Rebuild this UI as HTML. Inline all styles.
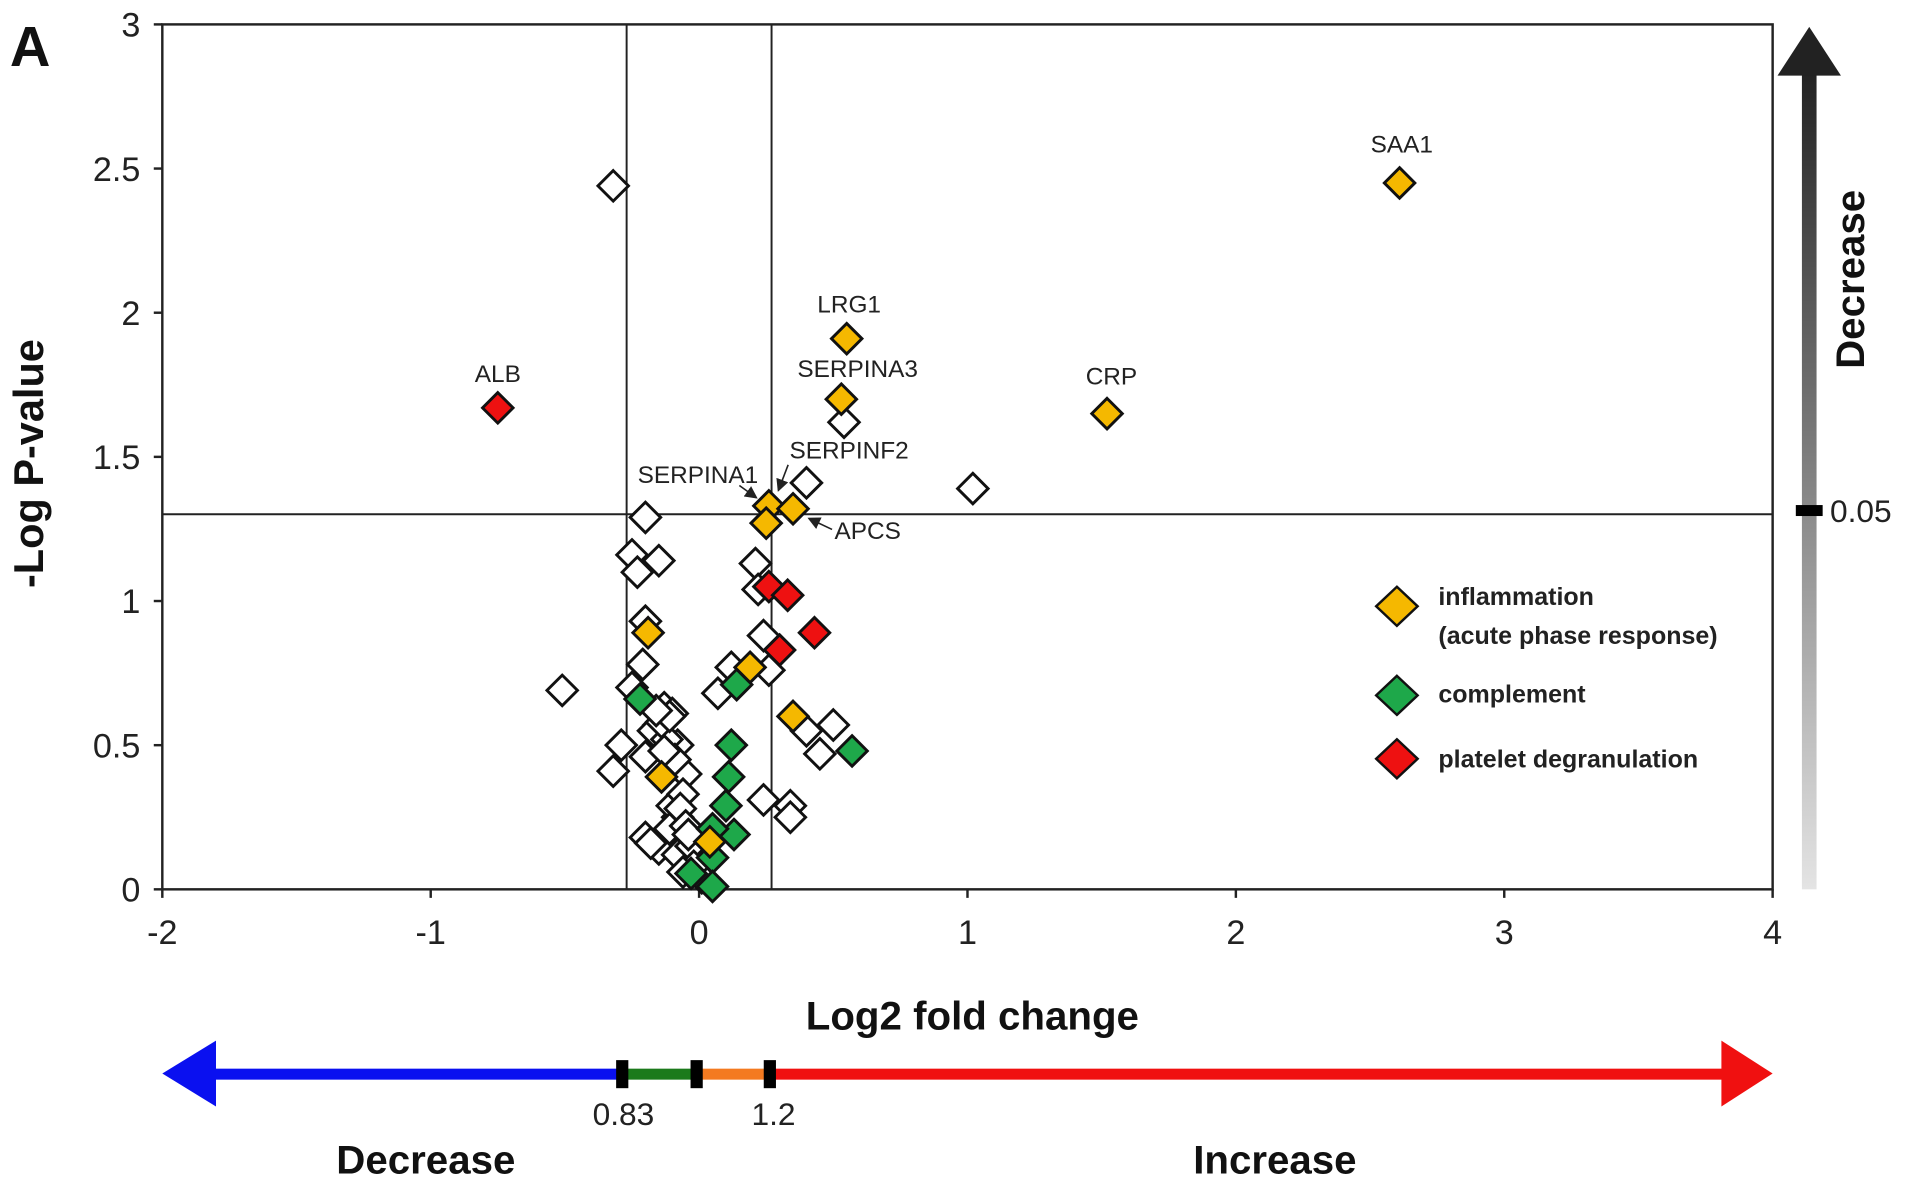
<!DOCTYPE html>
<html><head><meta charset="utf-8"><style>
html,body{margin:0;padding:0;background:#fff}
svg{display:block;font-family:"Liberation Sans",Arial,sans-serif}
</style></head><body>
<svg id="chart" width="1913" height="1187" viewBox="0 0 1568 973" xmlns="http://www.w3.org/2000/svg">
<defs>
<linearGradient id="gr" x1="0" y1="1" x2="0" y2="0">
<stop offset="0" stop-color="#e4e4e4"/><stop offset="1" stop-color="#222"/>
</linearGradient>
<marker id="ah" markerWidth="8" markerHeight="8" refX="7" refY="4" orient="auto"><path d="M0,0 L8,4 L0,8 Z" fill="#222"/></marker>
</defs>
<g id="axes"></g>
<g id="points"></g>
<g id="labels" font-size="20" fill="#222"></g>
</svg>
<script>
const xTicks=[-2,-1,0,1,2,3,4];
const yTicks=[0,0.5,1,1.5,2,2.5,3];
const yTickLabels=["0","0.5","1","1.5","2","2.5","3"];
const whiteX=[-0.32,0.54,0.40,1.02,-0.20,-0.25,-0.23,-0.15,0.21,0.22,0.24,0.26,-0.20,-0.21,-0.25,-0.51,0.07,0.12,-0.13,-0.15,-0.13,-0.08,-0.29,-0.32,-0.20,-0.05,0.40,0.50,0.45,0.24,0.34,0.34,-0.20,-0.15,-0.08,-0.06,-0.10,-0.01,0.01,-0.08,-0.17,-0.10,-0.06,-0.11,-0.12,-0.09,-0.07,-0.05,-0.03,-0.02,-0.06,-0.04,-0.14,-0.11,-0.18,-0.16,-0.13];
const whiteY=[2.44,1.62,1.41,1.39,1.29,1.16,1.10,1.14,1.13,1.04,0.88,0.76,0.93,0.78,0.70,0.69,0.68,0.77,0.63,0.57,0.50,0.50,0.50,0.41,0.46,0.40,0.55,0.57,0.47,0.31,0.29,0.25,0.18,0.14,0.25,0.17,0.29,0.10,0.04,0.12,0.55,0.61,0.33,0.21,0.52,0.45,0.28,0.22,0.15,0.08,0.06,0.19,0.58,0.60,0.16,0.62,0.48];
const greenX=[0.14,-0.22,0.57,0.12,0.11,0.10,0.13,0.05,-0.03,0.05,0.05];
const greenY=[0.71,0.66,0.48,0.50,0.39,0.29,0.19,0.11,0.055,0.01,0.21];
const orangeX=[2.61,0.55,0.53,1.52,0.26,0.35,0.25,0.19,0.35,-0.19,-0.14,0.04];
const orangeY=[2.45,1.91,1.70,1.65,1.33,1.32,1.27,0.77,0.60,0.89,0.39,0.165];
const redX=[-0.75,0.26,0.33,0.43,0.30];
const redY=[1.67,1.05,1.02,0.89,0.83];
const foldLow=-0.27, foldHigh=0.27, pThresh=1.301;

const NS="http://www.w3.org/2000/svg";
const L=133,R=1453,T=20,B=729;
const sx=v=>L+(v+2)/6*(R-L);
const sy=v=>B-v/3*(B-T);
function el(tag,attrs,parent,text){const e=document.createElementNS(NS,tag);for(const k in attrs)e.setAttribute(k,attrs[k]);if(text!==undefined)e.textContent=text;parent.appendChild(e);return e;}
const svg=document.getElementById('chart');
const ax=document.getElementById('axes');

let e=el('rect',{x:L,y:T,width:R-L,height:B-T,fill:'none',stroke:'#222','stroke-width':2},ax);


xTicks.forEach(t=>{
 el('line',{x1:sx(t),x2:sx(t),y1:B,y2:B+7,stroke:'#222','stroke-width':2},ax);
 const tx=el('text',{x:sx(t),y:B+45,'font-size':28,'text-anchor':'middle',fill:'#222'},ax,String(t));
 
 
});
yTicks.forEach((t,i)=>{
 el('line',{x1:L-7,x2:L,y1:sy(t),y2:sy(t),stroke:'#222','stroke-width':2},ax);
 const tx=el('text',{x:L-18,y:sy(t)+10,'font-size':28,'text-anchor':'end',fill:'#222'},ax,yTickLabels[i]);
 
 
});
[foldLow,foldHigh].forEach(v=>{
 const l=el('line',{x1:sx(v),x2:sx(v),y1:T,y2:B,stroke:'#222','stroke-width':1.6},ax);
 
 
});
e=el('line',{x1:L,x2:R,y1:sy(pThresh),y2:sy(pThresh),stroke:'#222','stroke-width':1.6},ax);



const pts=document.getElementById('points');
function diamond(x,y,fill,name){
 const cx=sx(x),cy=sy(y),h=12.5;
 const p=el('polygon',{points:`${cx},${cy-h} ${cx+h},${cy} ${cx},${cy+h} ${cx-h},${cy}`,fill:fill,stroke:'#111','stroke-width':2.4},pts);
 
 
}
whiteX.forEach((x,i)=>diamond(x,whiteY[i],'#fff','protein-point'));
greenX.forEach((x,i)=>diamond(x,greenY[i],'#1ea84a','complement-point'));
orangeX.forEach((x,i)=>diamond(x,orangeY[i],'#f5b800','inflammation-point'));
redX.forEach((x,i)=>diamond(x,redY[i],'#ee1111','platelet-point'));

const lab=document.getElementById('labels');
function lbl(t,x,y,a,name){const tx=el('text',{x:x,y:y,'text-anchor':a||'middle'},lab,t);
 
 }
lbl('SAA1',1149,125,'middle','saa1-label');
lbl('LRG1',696,256,'middle','lrg1-label');
lbl('SERPINA3',703,309,'middle','serpina3-label');
lbl('CRP',911,315,'middle','crp-label');
lbl('ALB',408,313,'middle','alb-label');
lbl('SERPINF2',696,376,'middle','serpinf2-label');
lbl('SERPINA1',572,396,'middle','serpina1-label');
lbl('APCS',684,442,'start','apcs-label');
el('line',{x1:606,y1:398,x2:620,y2:408,stroke:'#222','stroke-width':1.3,'marker-end':'url(#ah)'},lab);
el('line',{x1:646,y1:381,x2:638,y2:402,stroke:'#222','stroke-width':1.3,'marker-end':'url(#ah)'},lab);
el('line',{x1:682,y1:434,x2:663,y2:425,stroke:'#222','stroke-width':1.3,'marker-end':'url(#ah)'},lab);

// legend
const leg=[['#f5b800',497,'inflammation',489],['#1ea84a',570,'complement',569],['#ee1111',622,'platelet degranulation',622]];
leg.forEach(l=>{
 const p=el('polygon',{points:`1145,${l[1]-16} 1162,${l[1]} 1145,${l[1]+16} 1128,${l[1]}`,fill:l[0],stroke:'#111','stroke-width':2},svg);
 
 
 const t=el('text',{x:1179,y:l[3]+7,'font-size':20.5,'font-weight':'bold',fill:'#222'},svg,l[2]);
 
 
});
e=el('text',{x:1179,y:528,'font-size':20.5,'font-weight':'bold',fill:'#222'},svg,'(acute phase response)');



// titles
e=el('text',{x:797,y:844,'font-size':33,'font-weight':'bold','text-anchor':'middle',fill:'#111'},svg,'Log2 fold change');


e=el('text',{x:0,y:0,'font-size':34,'font-weight':'bold','text-anchor':'middle',fill:'#111',transform:'translate(35,380) rotate(-90)'},svg,'-Log P-value');


e=el('text',{x:8,y:54,'font-size':46,'font-weight':'bold',fill:'#111'},svg,'A');



// right gradient arrow
e=el('rect',{x:1477,y:58,width:12,height:671,fill:'url(#gr)'},svg);


el('polygon',{points:'1483,22 1509,62 1457,62',fill:'#222'},svg);
el('rect',{x:1472,y:414,width:22,height:9,fill:'#000'},svg);
e=el('text',{x:1500,y:428,'font-size':26,fill:'#222'},svg,'0.05');


e=el('text',{x:0,y:0,'font-size':33,'font-weight':'bold','text-anchor':'middle',fill:'#111',transform:'translate(1528,229) rotate(-90)'},svg,'Decrease');



// bottom arrow
const ba=el('g',{},svg);


el('rect',{x:170,y:876,width:340,height:9,fill:'#0a10f0'},ba);
el('polygon',{points:'133,880 177,853 177,907',fill:'#0a10f0'},ba);
el('rect',{x:510,y:876,width:61,height:9,fill:'#1b7a1b'},ba);
el('rect',{x:571,y:876,width:60,height:9,fill:'#f47a20'},ba);
el('rect',{x:631,y:876,width:785,height:9,fill:'#f01010'},ba);
el('polygon',{points:'1453,880 1411,853 1411,907',fill:'#f01010'},ba);
[510,571,631].forEach(x=>el('rect',{x:x-5,y:869,width:10,height:23,fill:'#000'},ba));
e=el('text',{x:511,y:922,'font-size':26,'text-anchor':'middle',fill:'#222'},svg,'0.83');


e=el('text',{x:634,y:922,'font-size':26,'text-anchor':'middle',fill:'#222'},svg,'1.2');


e=el('text',{x:349,y:962,'font-size':33,'font-weight':'bold','text-anchor':'middle',fill:'#111'},svg,'Decrease');


e=el('text',{x:1045,y:962,'font-size':33,'font-weight':'bold','text-anchor':'middle',fill:'#111'},svg,'Increase');


</script>
</body></html>
